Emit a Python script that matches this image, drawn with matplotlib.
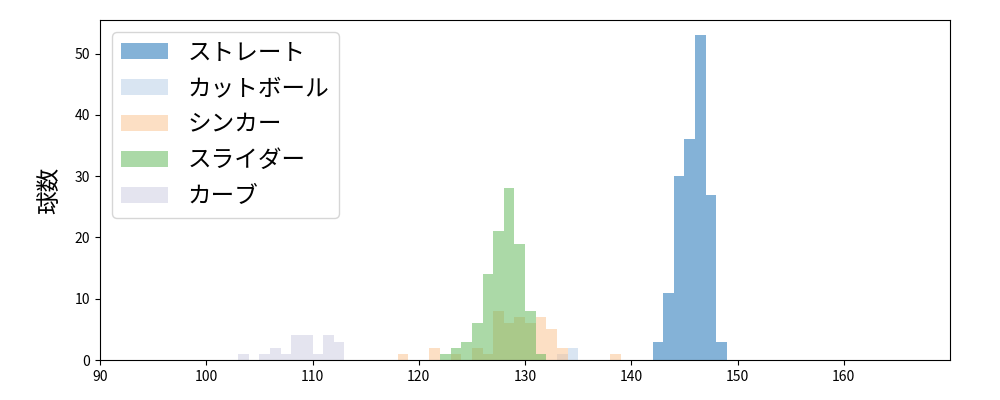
import matplotlib
matplotlib.use("Agg")
import matplotlib.pyplot as plt

plt.rcParams['font.family'] = ['Noto Sans CJK JP', 'DejaVu Sans']

# pitch types, in drawing order
pitch_names = ["ストレート", "カットボール", "シンカー", "スライダー", "カーブ"]
pitch_colors = ["#0b67b1", "#b5cde7", "#fbc18b", "#59b551", "#cbcbe1"]

# bin left edges (km/h) and counts per pitch type
straight_bins = [142, 143, 144, 145, 146, 147, 148]
straight_counts = [3, 11, 30, 36, 53, 27, 3]

cutter_bins = [133, 134]
cutter_counts = [1, 2]

sinker_bins = [118, 121, 123, 125, 126, 127, 128, 129, 130, 131, 132, 133, 138]
sinker_counts = [1, 2, 1, 2, 1, 8, 6, 7, 6, 7, 5, 2, 1]

slider_bins = [122, 123, 124, 125, 126, 127, 128, 129, 130, 131]
slider_counts = [1, 2, 3, 6, 14, 21, 28, 19, 8, 1]

curve_bins = [103, 105, 106, 107, 108, 109, 110, 111, 112]
curve_counts = [1, 1, 2, 1, 4, 4, 1, 4, 3]

all_bins = [straight_bins, cutter_bins, sinker_bins, slider_bins, curve_bins]
all_counts = [straight_counts, cutter_counts, sinker_counts, slider_counts, curve_counts]

fig = plt.figure(figsize=(10, 4), dpi=100)
ax = fig.add_axes([0.1, 0.1, 0.85, 0.85])

for name, color, bins, counts in zip(pitch_names, pitch_colors, all_bins, all_counts):
    ax.bar(bins, counts, width=1, align='edge', color=color, alpha=0.5,
           linewidth=0, label=name)

ax.set_xlim(90, 170)
ax.set_ylim(0, 55.5)
ax.set_xticks(range(90, 170, 10))
ax.set_yticks(range(0, 60, 10))
ax.tick_params(labelsize=10)
ax.set_ylabel("球数", fontsize=17, labelpad=10)

ax.legend(loc="upper left", fontsize=17, labelspacing=0.55)

fig.savefig("out.png")
